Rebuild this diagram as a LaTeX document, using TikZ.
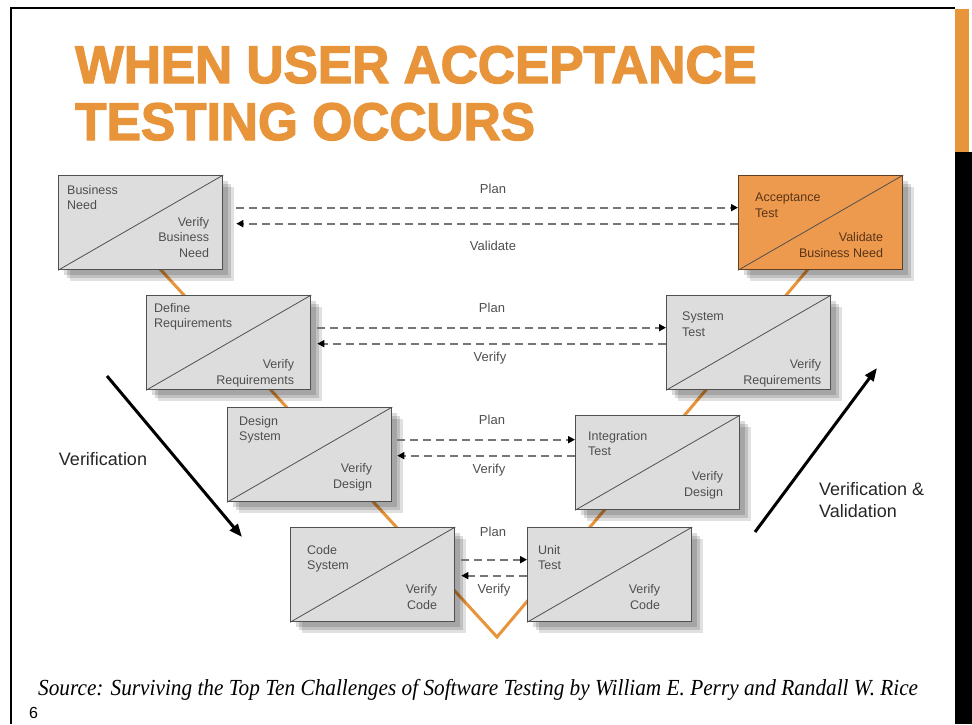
\documentclass[tikz,border=0pt]{standalone}
\usepackage{fontspec}
\setmainfont{Liberation Sans}
\newfontfamily\srcfont{Liberation Serif}
\newfontfamily\titlefont[FakeBold=2.5]{Liberation Sans Bold}
\usetikzlibrary{arrows.meta,shadows}
\definecolor{uatorange}{RGB}{232,148,58}
\definecolor{uatfill}{RGB}{238,154,78}
\definecolor{accline}{RGB}{100,62,30}
\definecolor{acctext}{RGB}{88,52,22}
\definecolor{boxgray}{RGB}{221,221,221}
\definecolor{boxline}{RGB}{80,80,80}
\definecolor{boxtext}{RGB}{78,78,78}
\definecolor{flowgray}{RGB}{118,118,118}

\tikzset{
  stagebox/.style={draw=boxline, fill=boxgray, line width=1.3pt,
    minimum width=164pt, minimum height=94pt, inner sep=0pt, anchor=north west,
    drop shadow={shadow xshift=5pt, shadow yshift=-5pt, fill=black, opacity=0.14},
    drop shadow={shadow xshift=8pt, shadow yshift=-8pt, fill=black, opacity=0.14},
    drop shadow={shadow xshift=11pt, shadow yshift=-11pt, fill=black, opacity=0.12}},
  accbox/.style={stagebox, fill=uatfill, draw=accline},
  boxlabel/.style={font=\fontsize{12.5}{15.5}\selectfont, text=boxtext, inner sep=0pt},
  flow/.style={flowgray, line width=2pt, dash pattern=on 8pt off 5pt,
    -{Triangle[length=7pt,width=7pt,color=black]}},
  flowlabel/.style={font=\fontsize{13}{15}\selectfont, text=boxtext, inner sep=0pt},
  phase/.style={line width=3pt, -{Triangle[length=13pt,width=10pt]}},
  phaselabel/.style={font=\fontsize{18}{22}\selectfont, text=black!85, align=left, inner sep=0pt},
  title/.style={font=\titlefont\fontsize{53}{57}\selectfont, text=uatorange, inner sep=0pt},
}

% box with a diagonal, a task at top left and its check at bottom right
\newcommand\stage[7][stagebox]{%
  \node[#1] (#2) at (#3) {};
  \draw[boxline, line width=0.8pt] (#2.south west) -- (#2.north east);
  \node[boxlabel, anchor=north west, align=left] (#2-top) at ([shift={(#6)}]#2.north west) {#4};
  \node[boxlabel, anchor=south east, align=right, text depth=0pt] (#2-bot) at ([shift={(#7)}]#2.south east) {#5};
}

\begin{document}
\begin{tikzpicture}[x=1pt,y=-1pt]
  \useasboundingbox (0,0) rectangle (972,724);

  % slide frame
  \draw[line width=2.5pt] (11,724) -- (11,8) -- (955,8);
  \fill[uatorange] (955,9) rectangle (969,152);
  \fill[black] (955,152) rectangle (972,724);

  % heading
  \node[title, anchor=base west] (title1) at (75,83) {\scalebox{0.97}[1]{WHEN USER ACCEPTANCE}};
  \node[title, anchor=base west] (title2) at (75,140) {\scalebox{0.97}[1]{TESTING OCCURS}};

  % the V behind the boxes
  \draw[uatorange, line width=3pt] (150,258) -- (497,637) -- (815,261);

  % left leg
  \stage{need}{58,175}{Business\\Need}{Verify\\Business\\Need}{9,10}{-14,-13}
  \stage{req}{146,295}{Define\\Requirements}{Verify\\Requirements}{8,8}{-17,-6}
  \stage{design}{227,407}{Design\\System}{Verify\\Design}{12,9}{-20,-14}
  \stage{code}{290,527}{Code\\System}{Verify\\Code}{17,18}{-18,-13}
  % right leg
  \stage{unit}{527,527}{Unit\\Test}{Verify\\Code}{11,18}{-32,-13}
  \stage{integ}{575,415}{Integration\\Test}{Verify\\Design}{13,16}{-17,-14}
  \stage{system}{666,295}{System\\Test}{Verify\\Requirements}{16,17}{-10,-6}
  \begin{scope}[boxlabel/.append style={text=acctext}]
    \stage[accbox]{accept}{738,175}{Acceptance\\Test}{Validate\\Business Need}{17,18}{-20,-13}
  \end{scope}

  % plan / check links
  \coordinate (p1) at ([shift={(13,-15)}]need.east);
  \coordinate (v1) at ([shift={(13,1)}]need.east);
  \coordinate (p2) at ([shift={(6,-15)}]req.east);
  \coordinate (v2) at ([shift={(6,1)}]req.east);
  \coordinate (p3) at ([shift={(5,-15)}]design.east);
  \coordinate (v3) at ([shift={(5,1)}]design.east);
  \coordinate (p4) at ([shift={(6,-15)}]code.east);
  \coordinate (v4) at ([shift={(6,1)}]code.east);

  \draw[flow] (p1) -- (p1 -| accept.west);
  \draw[flow] (v1 -| accept.west) -- (v1);
  \draw[flow] (p2) -- (p2 -| system.west);
  \draw[flow] (v2 -| system.west) -- (v2);
  \draw[flow] (p3) -- (p3 -| integ.west);
  \draw[flow] (v3 -| integ.west) -- (v3);
  \draw[flow] (p4) -- (p4 -| unit.west);
  \draw[flow] (v4 -| unit.west) -- (v4);

  \node[flowlabel] (plan1) at (493,189) {Plan};
  \node[flowlabel] (val1) at (493,246) {Validate};
  \node[flowlabel] (plan2) at (492,308) {Plan};
  \node[flowlabel] (ver2) at (490,358) {Verify};
  \node[flowlabel] (plan3) at (492,420) {Plan};
  \node[flowlabel] (ver3) at (489,470) {Verify};
  \node[flowlabel] (plan4) at (493,532) {Plan};
  \node[flowlabel] (ver4) at (494,590) {Verify};

  % direction of the two legs
  \coordinate (down1) at (107,376);
  \coordinate (down2) at (242,537);
  \coordinate (up1) at (755,532);
  \coordinate (up2) at (877,368);
  \draw[phase] (down1) -- (down2);
  \draw[phase] (up1) -- (up2);
  \node[phaselabel] (verif) at (103,459) {Verification};
  \node[phaselabel, anchor=west] (vandv) at (819,500) {Verification \&\\Validation};

  % footer
  \node[anchor=base west, inner sep=0pt, font=\srcfont\itshape\fontsize{23}{26}\selectfont] (source) at (38,695)
    {\scalebox{0.925}[1]{Source: Surviving the Top Ten Challenges of Software Testing by William E. Perry and Randall W. Rice}};
  \node[anchor=base west, inner sep=0pt, font=\fontsize{16}{18}\selectfont] (pagenum) at (29,718) {6};
\end{tikzpicture}
\end{document}
